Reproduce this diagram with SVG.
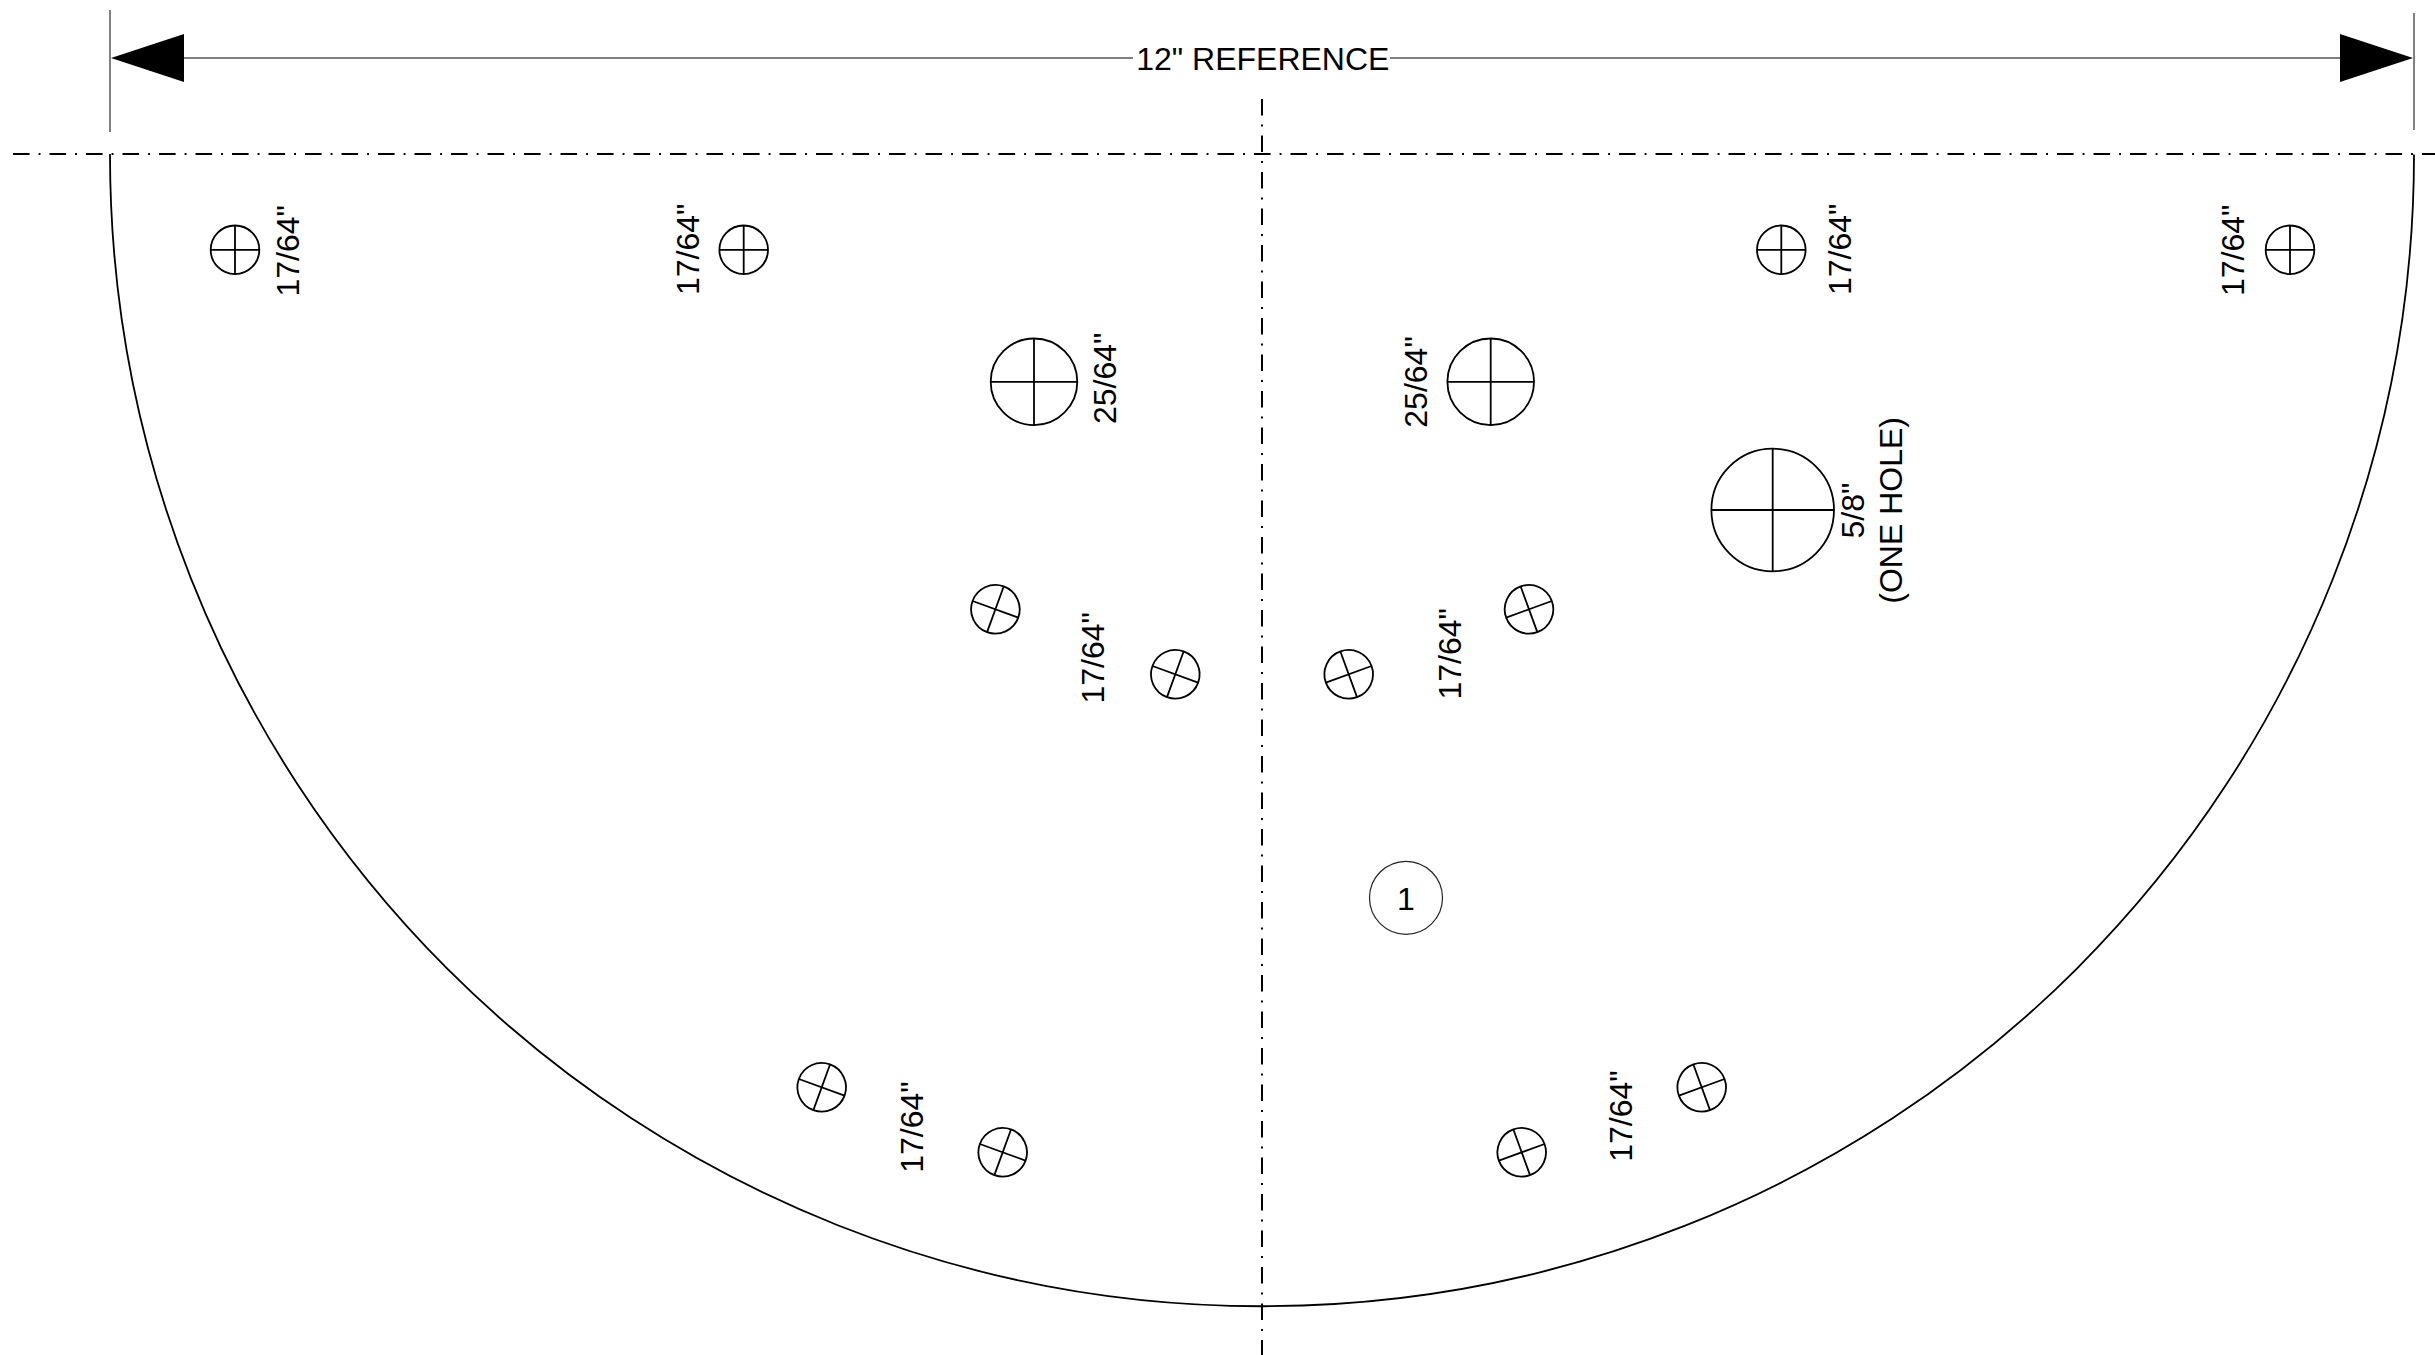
<svg xmlns="http://www.w3.org/2000/svg" xmlns:xlink="http://www.w3.org/1999/xlink" width="2435" height="1355" viewBox="0 0 2435 1355">
<style>
text{font-family:"Liberation Sans",Arial,sans-serif;font-size:32px;fill:#000}
.o{fill:none;stroke:#000;stroke-width:1.8}
.c{fill:none;stroke:#000;stroke-width:2;stroke-dasharray:16.6 9 1.9 9}
.d{fill:none;stroke:#808080;stroke-width:2}
.a{fill:#000}
</style>
<defs>
<g id="s"><circle class="o" r="24.3"/><path class="o" d="M-24.3 0H24.3M0-24.3V24.3"/></g>
<g id="m"><circle class="o" r="43.3"/><path class="o" d="M-43.3 0H43.3M0-43.3V43.3"/></g>
<g id="l"><circle class="o" r="61.3"/><path class="o" d="M-61.3 0H61.3M0-61.3V61.3"/></g>
</defs>
<rect width="2435" height="1355" fill="#fff"/>
<g id="connectors">
<path class="d" d="M110 10V132M2414 13V130M184 58H1133M1390 58H2340"/>
<path class="a" d="M111 58L184 34V82ZM2413 58L2340 34V82Z"/>
<path class="c" d="M13 154H2435"/>
<path class="c" d="M1262 99V1355"/>
</g>
<g id="plate"><path class="o" d="M110 154A1152 1152 0 0 0 2414 154.5"/></g>
<g id="dim-label"><text x="1262.8" y="70" text-anchor="middle">12" REFERENCE</text></g>
<g id="hole-1"><use xlink:href="#s" href="#s" x="235" y="249.8"/><text transform="translate(299 296.5) rotate(-90)">17/64"</text></g>
<g id="hole-2"><use xlink:href="#s" href="#s" x="743.7" y="249.8"/><text transform="translate(699 295) rotate(-90)">17/64"</text></g>
<g id="hole-3"><use xlink:href="#s" href="#s" x="1781.3" y="249.8"/><text transform="translate(1850.7 295) rotate(-90)">17/64"</text></g>
<g id="hole-4"><use xlink:href="#s" href="#s" x="2290" y="249.8"/><text transform="translate(2244 296) rotate(-90)">17/64"</text></g>
<g id="hole-5"><use xlink:href="#m" href="#m" x="1034" y="381.8"/><text transform="translate(1116 424) rotate(-90)">25/64"</text></g>
<g id="hole-6"><use xlink:href="#m" href="#m" x="1490.7" y="381.8"/><text transform="translate(1427.3 427.7) rotate(-90)">25/64"</text></g>
<g id="hole-7"><use xlink:href="#l" href="#l" x="1772.7" y="510"/><text transform="translate(1864.3 538.5) rotate(-90)">5/8"</text><text transform="translate(1901.7 603.7) rotate(-90)">(ONE HOLE)</text></g>
<g id="hole-8"><use xlink:href="#s" href="#s" transform="translate(995.4 609.3) rotate(20)"/></g>
<g id="hole-9"><use xlink:href="#s" href="#s" transform="translate(1175.3 674.3) rotate(20)"/><text transform="translate(1104.3 703.5) rotate(-90)">17/64"</text></g>
<g id="hole-10"><use xlink:href="#s" href="#s" transform="translate(1348.7 674.3) rotate(-20)"/><text transform="translate(1460.7 699.5) rotate(-90)">17/64"</text></g>
<g id="hole-11"><use xlink:href="#s" href="#s" transform="translate(1529 609.3) rotate(-20)"/></g>
<g id="hole-12"><use xlink:href="#s" href="#s" transform="translate(821.7 1087.3) rotate(20)"/></g>
<g id="hole-13"><use xlink:href="#s" href="#s" transform="translate(1002.7 1152.3) rotate(20)"/><text transform="translate(923.3 1172.8) rotate(-90)">17/64"</text></g>
<g id="hole-14"><use xlink:href="#s" href="#s" transform="translate(1521.7 1152.3) rotate(-20)"/><text transform="translate(1632 1161.8) rotate(-90)">17/64"</text></g>
<g id="hole-15"><use xlink:href="#s" href="#s" transform="translate(1701.7 1087.3) rotate(-20)"/></g>
<g id="balloon-1"><circle cx="1406" cy="897.8" r="36.5" fill="none" stroke="#222" stroke-width="1.2"/><text x="1406" y="909.5" text-anchor="middle">1</text></g>
</svg>
